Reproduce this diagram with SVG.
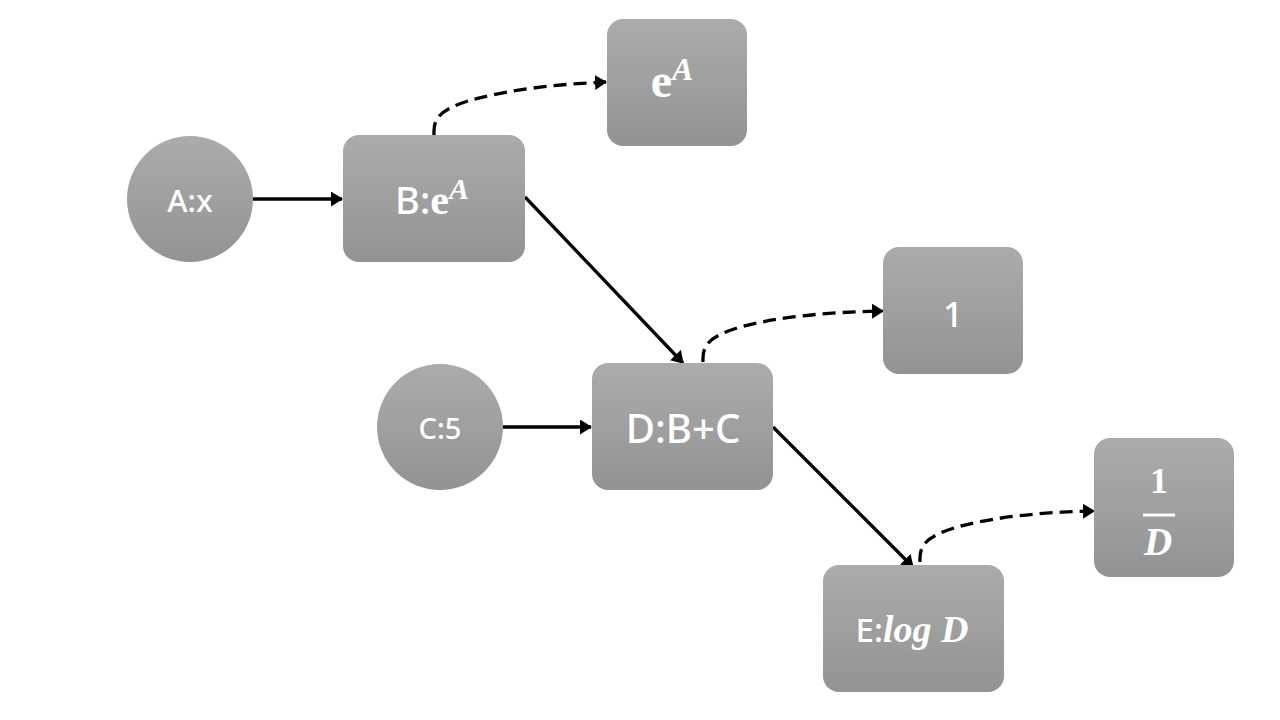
<svg xmlns="http://www.w3.org/2000/svg" width="1280" height="720" viewBox="0 0 1280 720">
  <defs>
    <linearGradient id="fillGrey" x1="0" y1="0" x2="0" y2="1">
      <stop offset="0" stop-color="#ababab"/>
      <stop offset="1" stop-color="#939393"/>
    </linearGradient>
    <marker id="arrow" viewBox="0 0 12 15" refX="11" refY="7.5" markerWidth="12" markerHeight="15" markerUnits="userSpaceOnUse" orient="auto">
      <path d="M0,0 L12,7.5 L0,15 Z" fill="#000"/>
    </marker>
    <style>
      .node { fill: url(#fillGrey); }
      .lbl { fill: #fff; font-family: "Noto Sans", "Open Sans", sans-serif; font-weight: 500; text-anchor: middle; }
      .math { font-family: "Liberation Serif", "DejaVu Serif", serif; font-weight: bold; }
      .it { font-style: italic; }
      .solid { stroke: #000; stroke-width: 3.3; fill: none; marker-end: url(#arrow); }
      .dash { stroke: #000; stroke-width: 3.3; fill: none; stroke-dasharray: 13 7; marker-end: url(#arrow); }
    </style>
  </defs>

  <rect width="1280" height="720" fill="#fff"/>

  <!-- edges -->
  <g id="connectors">
    <line class="solid" x1="253" y1="199" x2="342" y2="199"/>
    <line class="solid" x1="525" y1="197" x2="683" y2="363"/>
    <line class="solid" x1="503" y1="427" x2="591" y2="427"/>
    <line class="solid" x1="773" y1="427" x2="913" y2="567"/>
    <path class="dash" d="M434,135 C433,118 440,110 468,101 C510,89 560,84 606,82"/>
    <path class="dash" d="M703,362 C702,345 709,337 737,328 C779,316 832,312 883,311"/>
    <path class="dash" d="M920,562 C919,545 926,537 954,528 C996,516 1046,512 1094,511"/>
  </g>

  <g id="node-A">
    <circle class="node" cx="190" cy="199" r="63"/>
    <text class="lbl" x="190" y="212" font-size="31">A:x</text>
  </g>

  <g id="node-B">
    <rect class="node" x="343" y="135" width="182" height="127" rx="16"/>
    <text class="lbl" x="432" y="214" font-size="38">B:<tspan class="math" font-size="42">e</tspan><tspan class="math it" font-size="30" dy="-15">A</tspan></text>
  </g>

  <g id="node-dB">
    <rect class="node" x="607" y="19" width="140" height="127" rx="16"/>
    <text class="lbl math" x="672" y="97" font-size="48">e<tspan class="it" font-size="32" dy="-17">A</tspan></text>
  </g>

  <g id="node-C">
    <circle class="node" cx="440" cy="427" r="63"/>
    <text class="lbl" x="440" y="439" font-size="29">C:5</text>
  </g>

  <g id="node-D">
    <rect class="node" x="592" y="363" width="181" height="127" rx="16"/>
    <text class="lbl" x="683" y="443" font-size="40">D:B+C</text>
  </g>

  <g id="node-dD">
    <rect class="node" x="883" y="247" width="140" height="127" rx="16"/>
    <text class="lbl" x="953" y="327" font-size="35">1</text>
  </g>

  <g id="node-E">
    <rect class="node" x="823" y="565" width="181" height="127" rx="16"/>
    <text class="lbl" x="912" y="642" font-size="33">E:<tspan class="math it" font-size="38">log D</tspan></text>
  </g>

  <g id="node-dE">
    <rect class="node" x="1094" y="438" width="140" height="139" rx="16"/>
    <text class="lbl math" x="1159" y="493" font-size="36">1</text>
    <line x1="1143" y1="515" x2="1175" y2="515" stroke="#fff" stroke-width="3"/>
    <text class="lbl math it" x="1158" y="555" font-size="39">D</text>
  </g>
</svg>
